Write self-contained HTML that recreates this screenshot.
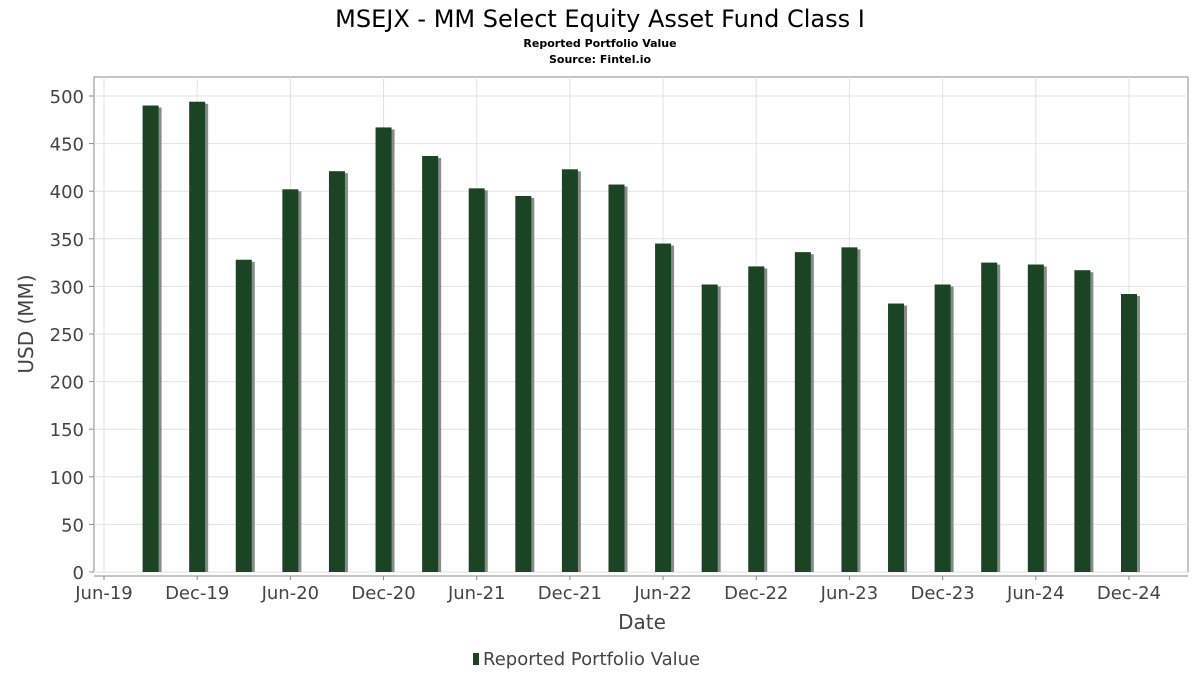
<!DOCTYPE html>
<html><head><meta charset="utf-8"><style>
body{margin:0;background:#fff;font-family:"DejaVu Sans","Liberation Sans",sans-serif}
svg text{font-family:"DejaVu Sans","Liberation Sans",sans-serif}
</style></head><body>
<svg id="chart" width="1200" height="675" xmlns="http://www.w3.org/2000/svg">
<text x="600" y="27" text-anchor="middle" font-size="24" fill="#000">MSEJX - MM Select Equity Asset Fund Class I</text>
<text x="600" y="47" text-anchor="middle" font-size="11" font-weight="bold" fill="#000">Reported Portfolio Value</text>
<text x="600" y="63" text-anchor="middle" font-size="11" font-weight="bold" fill="#000">Source: Fintel.io</text>
<rect x="94" y="77" width="1094" height="495" fill="#fff" stroke="#888"/>
<g id="grid"></g><g id="bars"></g><g id="axes"></g>
<text x="642" y="629" text-anchor="middle" font-size="20" fill="#444">Date</text>
<text transform="translate(33,324) rotate(-90)" text-anchor="middle" font-size="20" fill="#444">USD (MM)</text>
<g>
<rect x="473" y="653" width="6" height="12" fill="#1a4424"/>
<text x="483" y="665" font-size="18" fill="#444">Reported Portfolio Value</text>
</g>
</svg>
<script>
const categories=["Sep-19","Dec-19","Mar-20","Jun-20","Sep-20","Dec-20","Mar-21","Jun-21","Sep-21","Dec-21","Mar-22","Jun-22","Sep-22","Dec-22","Mar-23","Jun-23","Sep-23","Dec-23","Mar-24","Jun-24","Sep-24","Dec-24"];
const values=[490,494,328,402,421,467,437,403,395,423,407,345,302,321,336,341,282,302,325,323,317,292];
const xTickLabels=["Jun-19","Dec-19","Jun-20","Dec-20","Jun-21","Dec-21","Jun-22","Dec-22","Jun-23","Dec-23","Jun-24","Dec-24"];
const yTicks=[0,50,100,150,200,250,300,350,400,450,500];
const NS="http://www.w3.org/2000/svg";
const mon={Jan:0,Feb:1,Mar:2,Apr:3,May:4,Jun:5,Jul:6,Aug:7,Sep:8,Oct:9,Nov:10,Dec:11};
function mIdx(s){const [m,y]=s.split("-");return (2000+ +y)*12+mon[m]-(2019*12+5);}
function xs(s){return 104+mIdx(s)*15.53;}
function ys(v){return 572-v*0.952;}
function mk(t,a,p){const e=document.createElementNS(NS,t);for(const k in a)e.setAttribute(k,a[k]);p.appendChild(e);return e;}
const grid=document.getElementById("grid"),bars=document.getElementById("bars"),axes=document.getElementById("axes");
yTicks.forEach(v=>{
 const l=mk("line",{x1:94,x2:1188,y1:ys(v),y2:ys(v),stroke:"#e2e2e2"},grid);
 
 
 const t=mk("text",{x:84,y:ys(v)+7,"text-anchor":"end","font-size":18,fill:"#444"},axes);
 t.textContent=v;
 
 
 const tk=mk("line",{x1:89,x2:94,y1:ys(v),y2:ys(v),stroke:"#888"},axes);
 
 
});
xTickLabels.forEach(s=>{
 const x=xs(s);
 const g=mk("line",{x1:x,x2:x,y1:77,y2:572,stroke:"#e2e2e2"},grid);
 
 
 const tk=mk("line",{x1:x,x2:x,y1:576,y2:580,stroke:"#888"},axes);
 
 
 const t=mk("text",{x:x,y:599,"text-anchor":"middle","font-size":18,fill:"#444"},axes);
 t.textContent=s;
 
 
});
const ax=mk("line",{x1:94,x2:1188,y1:576,y2:576,stroke:"#888"},axes);


categories.forEach((c,i)=>{
 const x=xs(c),y=ys(values[i]);
 const sh=mk("rect",{x:x-5,y:y+2,width:16,height:572-y-2,fill:"#8a8a8a"},bars);
 
 
 const b=mk("rect",{x:x-8,y:y,width:16,height:572-y,fill:"#1a4424"},bars);
 
 
});
</script>
</body></html>
